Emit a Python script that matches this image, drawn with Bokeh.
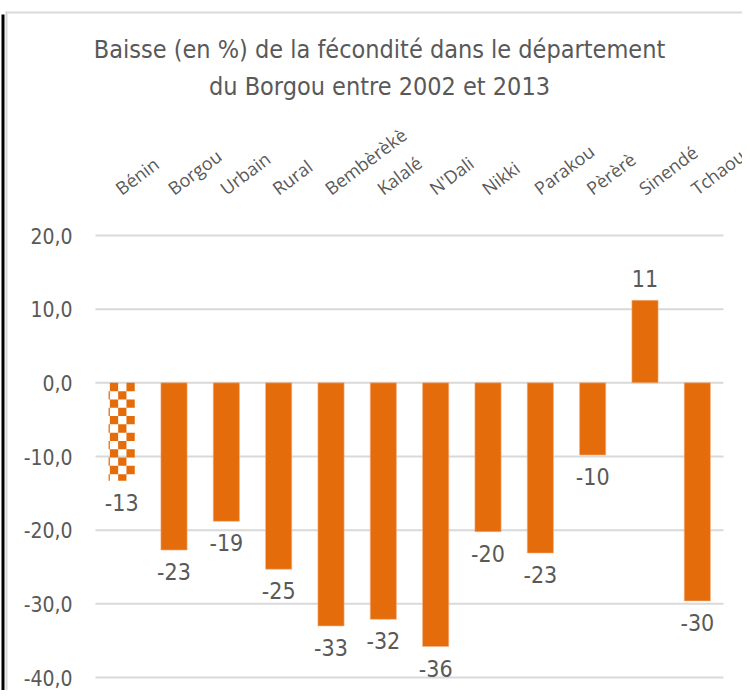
import math
from bokeh.plotting import figure
from bokeh.models import (ColumnDataSource, Range1d, Label, LabelSet, BoxAnnotation)
from bokeh.core.properties import value
from bokeh.embed import file_html
from bokeh.resources import INLINE

# ---- data ----
categories = ["Bénin", "Borgou", "Urbain", "Rural", "Bembèrèkè", "Kalalé",
              "N'Dali", "Nikki", "Parakou", "Pèrèrè", "Sinendé", "Tchaourou"]
values = [-13.3, -22.7, -18.8, -25.3, -33.0, -32.1, -35.8, -20.2, -23.1, -9.8, 11.2, -29.6]
y_ticks = [-40, -30, -20, -10, 0, 10, 20]
y_tick_labels = ["-40,0", "-30,0", "-20,0", "-10,0", "0,0", "10,0", "20,0"]
title_line1 = "Baisse (en %) de la fécondité dans le département"
title_line2 = "du Borgou entre 2002 et 2013"

ORANGE = "#E46C0A"
TXT = "#595959"
NARROW = "DejaVu Sans Condensed"

# ---- layout (pixels) ----
W, H = 742, 690
PLOT_L, PLOT_R = 95, 723        # horizontal extent of the category band
GRID_TOP, GRID_BOT = 235, 677   # pixel rows of the top / bottom tick
TITLE_CX = 379                  # title centre
TITLE_BASE = (49, 86)           # title text anchors
BAR_W = 0.5
Y0, Y1 = min(y_ticks), max(y_ticks)
n = len(categories)
px_per_cat = (PLOT_R - PLOT_L) / n
px_per_y = (GRID_BOT - GRID_TOP) / (Y1 - Y0)

def dx(px):
    return (px - PLOT_L) / px_per_cat

def dy(py):
    return Y1 - (py - GRID_TOP) / px_per_y

p = figure(x_range=Range1d(dx(0), dx(W)), y_range=Range1d(dy(H), dy(0)),
           width=W, height=H, output_backend="svg", toolbar_location=None,
           x_axis_location=None, y_axis_location=None, title=None,
           min_border_left=0, min_border_right=0, min_border_top=0,
           min_border_bottom=0)
p.outline_line_color = None
p.background_fill_color = "white"
p.border_fill_color = "white"
p.xgrid.visible = False
p.ygrid.visible = False

# horizontal gridlines at the ticks, across the category band
p.segment(x0=[0] * len(y_ticks), x1=[n] * len(y_ticks), y0=y_ticks, y1=y_ticks,
          line_color="#D9D9D9", line_width=2)

# y tick labels
src_yt = ColumnDataSource(dict(x=[0] * len(y_ticks), y=y_ticks, t=y_tick_labels))
p.add_layout(LabelSet(x="x", y="y", text="t", source=src_yt, x_offset=-23,
                      text_align="right", text_baseline="middle",
                      text_font=value(NARROW), text_font_size=value("21px"),
                      text_color=TXT))

xc = [i + 0.5 for i in range(n)]   # category centres

# bars (all but Bénin solid)
src_main = ColumnDataSource(dict(x=xc[1:], top=values[1:]))
p.vbar(x="x", top="top", width=BAR_W, source=src_main,
       fill_color=ORANGE, line_color="#F4B183", line_width=0.6)

# Bénin bar: checkerboard fill, cells derived from the bar's own extent
cell_px = 8.3
cw = cell_px / px_per_cat
ch = cell_px / px_per_y
b_val = values[0]
b_left, b_right = xc[0] - BAR_W / 2, xc[0] + BAR_W / 2
col_edges = []
e = b_right
while e > b_left + 1e-9:
    col_edges.append((max(e - cw, b_left), e))
    e -= cw
col_edges = col_edges[::-1]
ql, qr, qt, qb = [], [], [], []
r = 0
top_edge = 0.0
while top_edge > b_val + 1e-9:
    bot_edge = max(top_edge - ch, b_val)
    for c, (l, rr) in enumerate(col_edges):
        if (r + c) % 2 == 1:
            ql.append(l); qr.append(rr); qt.append(top_edge); qb.append(bot_edge)
    top_edge -= ch
    r += 1
p.quad(left=ql, right=qr, top=qt, bottom=qb, fill_color=ORANGE, line_color=None)

# category labels along the top of the plot band (rotated)
src_cat = ColumnDataSource(dict(x=xc, y=[Y1] * n, t=categories))
p.add_layout(LabelSet(x="x", y="y", text="t", source=src_cat,
                      x_offset=-4, y_offset=45,
                      angle=math.radians(37), text_align="left",
                      text_baseline="middle", text_font=value("Open Sans"),
                      text_font_size=value("18px"), text_color=TXT))

# data labels
neg = [(x, v, str(round(v))) for x, v in zip(xc, values) if v < 0]
pos = [(x, v, str(round(v))) for x, v in zip(xc, values) if v >= 0]
src_neg = ColumnDataSource(dict(x=[a[0] for a in neg], y=[a[1] for a in neg], t=[a[2] for a in neg]))
src_pos = ColumnDataSource(dict(x=[a[0] for a in pos], y=[a[1] for a in pos], t=[a[2] for a in pos]))
p.add_layout(LabelSet(x="x", y="y", text="t", source=src_neg, y_offset=-13,
                      text_align="center", text_baseline="top",
                      text_font=value(NARROW), text_font_size=value("23px"),
                      text_color=TXT))
p.add_layout(LabelSet(x="x", y="y", text="t", source=src_pos, y_offset=13,
                      text_align="center", text_baseline="bottom",
                      text_font=value(NARROW), text_font_size=value("23px"),
                      text_color=TXT))

# title (two centred lines)
for line, base in zip([title_line1, title_line2], TITLE_BASE):
    p.add_layout(Label(x=dx(TITLE_CX), y=dy(base), text=line,
                       text_align="center", text_baseline="alphabetic",
                       text_font=NARROW, text_font_size="25px", text_color=TXT))

# chart-object frame edges (top/left)
for (l, r_, t, b, col) in [(5, W, 11, 13, "#D9D9D9"),
                           (5, 7, 11, H, "#D9D9D9"),
                           (1, 4, 14, H, "#000000")]:
    p.add_layout(BoxAnnotation(left=dx(l), right=dx(r_), top=dy(t), bottom=dy(b),
                               fill_color=col, fill_alpha=1.0, line_color=None))

open("out.html", "w").write(file_html(p, INLINE))
